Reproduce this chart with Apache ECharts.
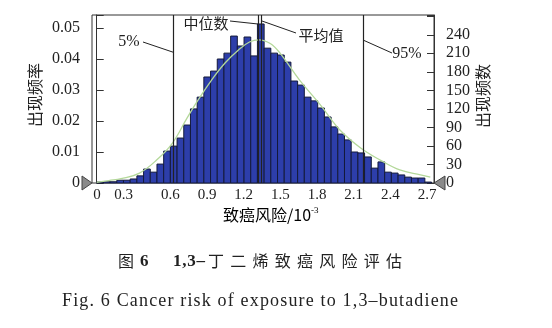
<!DOCTYPE html>
<html><head><meta charset="utf-8">
<script src="https://cdn.jsdelivr.net/npm/echarts@6/dist/echarts.min.js"></script>
<style>html,body{margin:0;padding:0;background:#fff}#c{width:552px;height:328px}</style>
</head><body><div id="c"></div>
<script>
// ---- data ----
const binStart = 0;
const binWidth = 0.0548;
const freq = [0.0003, 0.0004, 0.0004, 0.0009, 0.0009, 0.0013, 0.0023, 0.0045, 0.0035, 0.0061,
  0.0103, 0.0119, 0.0145, 0.0187, 0.0239, 0.0277, 0.0342, 0.0361, 0.0400, 0.0419,
  0.0474, 0.0442, 0.0471, 0.0410, 0.0513, 0.0435, 0.0419, 0.0413, 0.0390, 0.0329,
  0.0316, 0.0277, 0.0265, 0.0242, 0.0213, 0.0181, 0.0158, 0.0139, 0.0100, 0.0097,
  0.0084, 0.0048, 0.0068, 0.0035, 0.0032, 0.0026, 0.0019, 0.0016, 0.0016, 0.0003];
const curveX = [0, 0.1, 0.2, 0.35, 0.49, 0.62, 0.74, 0.83, 0.94, 1.05, 1.16, 1.25, 1.33, 1.42, 1.50, 1.66, 1.83, 1.99, 2.16, 2.32, 2.48, 2.65, 2.73];
const curveY = [0.0002, 0.0008, 0.0014, 0.0032, 0.0074, 0.0129, 0.0210, 0.0268, 0.0332, 0.0387, 0.0429, 0.0455, 0.0462, 0.0450, 0.0419, 0.0332, 0.0252, 0.0171, 0.0113, 0.0074, 0.0042, 0.0026, 0.0019];
const refNames = ['5%', '中位数', '平均值', '95%'];
const refValues = [0.633, 1.318, 1.347, 2.177];
const xTicks = { min: 0, max: 2.7, interval: 0.3 };
const yLeftTicks = { min: 0, max: 0.0542, interval: 0.01, lastLabel: 0.05 };
const yRightTicks = { min: 0, max: 272, interval: 30, lastLabel: 240 };
const yLeftName = '出现频率', yRightName = '出现频数';
const xName = '致癌风险/10', xNameSup = '-3';
const cap1a = '图', cap1b = '6', cap1c = '1,3–', cap1d = '丁二烯致癌风险评估';
const cap2 = 'Fig. 6 Cancer risk of exposure to 1,3–butadiene';

// ---- chart ----
const serif = '"Liberation Serif","DejaVu Serif",serif';
const cjk = '"Noto Sans CJK SC",sans-serif';
const txt = '#222';
const chart = echarts.init(document.getElementById('c'), null, { renderer: 'canvas' });

const bars = freq.map((f, i) => [binStart + i * binWidth, binStart + (i + 1) * binWidth, f]);
const curve = curveX.map((x, i) => [x, curveY[i]]);

const mctx = document.createElement('canvas').getContext('2d');
function spaced(str, x0, x1, y, font, fill) {
  mctx.font = font;
  const chars = Array.from(str);
  const ws = chars.map(ch => mctx.measureText(ch).width);
  const W = ws.reduce((a, b) => a + b, 0);
  const n = ws.length;
  const s = n > 1 ? (x1 - x0 - W) / (n - 1) : 0;
  let x = x0; const out = [];
  chars.forEach((ch, i) => {
    out.push({ type: 'text', x: x, y: y, silent: true,
      style: { text: ch, font: font, fill: fill || txt, align: 'left', verticalAlign: 'middle' } });
    x += ws[i] + s;
  });
  return out;
}

const option = {
  animation: false,
  backgroundColor: '#fff',
  grid: [
    { left: 92, right: 118, top: 15, bottom: 145, show: true, borderColor: '#333', borderWidth: 1, backgroundColor: 'transparent' },
    { left: 97, right: 125, top: 15, bottom: 145 }
  ],
  xAxis: [
    { gridIndex: 0, type: 'value', min: -0.0385, max: 2.760, show: false },
    { gridIndex: 1, type: 'value', min: xTicks.min, max: xTicks.max, interval: xTicks.interval,
      axisLine: { show: false }, axisTick: { show: false }, splitLine: { show: false },
      axisLabel: { margin: 5, color: txt, fontFamily: serif, fontSize: 15,
        formatter: v => { const s = (Math.round(v * 10) / 10).toString(); return Math.abs(v - 0.3) < 1e-6 ? '{s|' + s + '}' : s; },
        rich: { s: { padding: [0, 20, 0, 0], fontFamily: serif, fontSize: 15, color: txt } } } }
  ],
  yAxis: [
    { gridIndex: 0, type: 'value', position: 'left', min: yLeftTicks.min, max: yLeftTicks.max, interval: yLeftTicks.interval,
      axisLine: { show: true, lineStyle: { color: '#333', width: 1 } },
      axisTick: { show: true, inside: true, length: 7, lineStyle: { color: '#333' } },
      splitLine: { show: false },
      axisLabel: { margin: 12, color: txt, fontFamily: serif, fontSize: 16,
        formatter: v => v > yLeftTicks.lastLabel + 1e-6 ? '' : (v === 0 ? '0' : v.toFixed(2)) } },
    { gridIndex: 0, type: 'value', position: 'right', min: yRightTicks.min, max: yRightTicks.max, interval: yRightTicks.interval,
      axisLine: { show: true, lineStyle: { color: '#333', width: 1 } },
      axisTick: { show: true, inside: true, length: 7, lineStyle: { color: '#333' } },
      splitLine: { show: false },
      axisLabel: { margin: 12, color: txt, fontFamily: serif, fontSize: 16,
        formatter: v => v > yRightTicks.lastLabel ? '' : String(v) } },
    { gridIndex: 1, type: 'value', min: 0, max: 1, show: false }
  ],
  series: [
    { type: 'custom', xAxisIndex: 0, yAxisIndex: 0, data: bars,
      renderItem: (params, api) => {
        const p0 = api.coord([api.value(0), api.value(2)]);
        const p1 = api.coord([api.value(1), 0]);
        return { type: 'rect', shape: { x: p0[0], y: p0[1], width: p1[0] - p0[0], height: p1[1] - p0[1] },
          style: { fill: '#2d3eaa', stroke: '#141a3a', lineWidth: 1 } };
      } },
    { type: 'line', xAxisIndex: 0, yAxisIndex: 0, data: curve, smooth: 0.4, showSymbol: false,
      lineStyle: { color: '#b4d89a', width: 1.3 },
      markLine: { silent: true, symbol: ['none', 'none'], label: { show: false },
        lineStyle: { color: '#222', width: 1.2, type: 'solid' },
        data: refValues.map(v => ({ xAxis: v })) } }
  ]
};
chart.setOption(option);

const ax0 = chart.convertToPixel({ xAxisIndex: 0, yAxisIndex: 0 }, [-0.0385, 0]);
const ax1 = chart.convertToPixel({ xAxisIndex: 0, yAxisIndex: 0 }, [2.760, 0]);
const g = [];
const leaders = [
  [[143, 42], [174, 52.5]],
  [[230, 21], [258, 24]],
  [[262, 21], [296, 33]],
  [[363, 40], [392, 53]]
];
leaders.forEach(l => g.push({ type: 'line', silent: true, shape: { x1: l[0][0], y1: l[0][1], x2: l[1][0], y2: l[1][1] }, style: { stroke: '#222', lineWidth: 1 } }));
const labPos = [[129, 42, serif, 16], [206, 23, cjk, 15], [321, 35, cjk, 15], [407, 54, serif, 16]];
refNames.forEach((n, i) => g.push({ type: 'text', silent: true, x: labPos[i][0], y: labPos[i][1],
  style: { text: n, font: labPos[i][3] + 'px ' + labPos[i][2], fill: txt, align: 'center', verticalAlign: 'middle' } }));
g.push({ type: 'polygon', silent: true, shape: { points: [[ax0[0] - 10, ax0[1] - 7], [ax0[0], ax0[1]], [ax0[0] - 10, ax0[1] + 7]] }, style: { fill: '#8a8a8a', stroke: '#444', lineWidth: 1 } });
g.push({ type: 'polygon', silent: true, shape: { points: [[ax1[0] + 11, ax1[1] - 7], [ax1[0], ax1[1]], [ax1[0] + 11, ax1[1] + 7]] }, style: { fill: '#8a8a8a', stroke: '#444', lineWidth: 1 } });
g.push({ type: 'text', silent: true, x: 35, y: 95, rotation: Math.PI / 2,
  style: { text: yLeftName, font: '16px ' + cjk, fill: txt, align: 'center', verticalAlign: 'middle' } });
g.push({ type: 'text', silent: true, x: 483, y: 96, rotation: Math.PI / 2,
  style: { text: yRightName, font: '16px ' + cjk, fill: txt, align: 'center', verticalAlign: 'middle' } });
g.push({ type: 'text', silent: true, x: 223, y: 215,
  style: { text: '{a|' + xName + '}{b|' + xNameSup + '}', align: 'left', verticalAlign: 'middle',
    rich: { a: { fontFamily: cjk, fontSize: 16, color: txt },
            b: { fontFamily: serif, fontSize: 9, color: txt, padding: [0, 0, 9, 0] } } } });
g.push({ type: 'text', silent: true, x: 118, y: 261, style: { text: cap1a, font: '16px ' + cjk, fill: txt, align: 'left', verticalAlign: 'middle' } });
g.push({ type: 'text', silent: true, x: 140, y: 262, style: { text: cap1b, font: 'bold 17px ' + serif, fill: txt, align: 'left', verticalAlign: 'middle' } });
spaced(cap1c, 173, 205, 262, 'bold 17px ' + serif).forEach(e => g.push(e));
spaced(cap1d, 208, 402, 261, '16px ' + cjk).forEach(e => g.push(e));
spaced(cap2, 62, 458, 301, '18px ' + serif).forEach(e => g.push(e));
chart.setOption({ graphic: g });
</script></body></html>
